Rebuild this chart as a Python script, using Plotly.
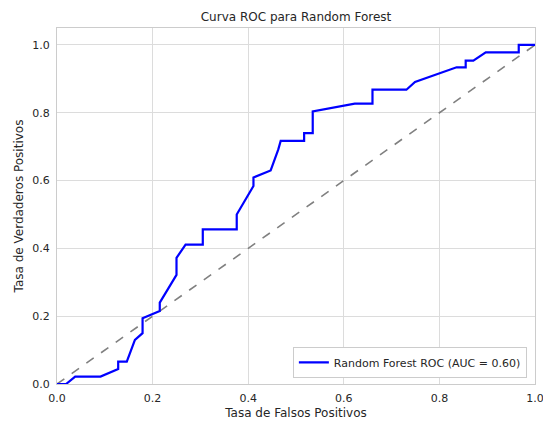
import plotly.graph_objects as go

fpr = [0.0, 0.019, 0.038, 0.091, 0.128, 0.128, 0.146, 0.163, 0.179, 0.179, 0.215, 0.215,
       0.25, 0.25, 0.269, 0.305, 0.305, 0.376, 0.376, 0.411, 0.411, 0.447, 0.463, 0.468,
       0.517, 0.517, 0.535, 0.535, 0.623, 0.66, 0.66, 0.731, 0.749, 0.836, 0.855, 0.855,
       0.871, 0.897, 0.966, 0.966, 1.0]
tpr = [0.0, 0.0, 0.022, 0.022, 0.044, 0.066, 0.066, 0.13, 0.15, 0.194, 0.215, 0.24,
       0.322, 0.372, 0.411, 0.411, 0.456, 0.456, 0.5, 0.584, 0.609, 0.63, 0.692, 0.717,
       0.717, 0.74, 0.74, 0.804, 0.827, 0.827, 0.868, 0.868, 0.891, 0.934, 0.934, 0.954,
       0.954, 0.978, 0.978, 1.0, 1.0]
diag = [0.0, 1.0]
auc_label = "Random Forest ROC (AUC = 0.60)"
ticks = [0.0, 0.2, 0.4, 0.6, 0.8, 1.0]
tick_text = ["0.0", "0.2", "0.4", "0.6", "0.8", "1.0"]

font = "DejaVu Sans, Liberation Sans, sans-serif"
fig = go.Figure()
fig.add_trace(go.Scatter(x=diag, y=diag, mode="lines",
                         line=dict(color="#808080", width=1.6, dash="dash"),
                         showlegend=False, hoverinfo="skip"))
fig.add_trace(go.Scatter(x=fpr, y=tpr, mode="lines", name=auc_label,
                         line=dict(color="#0000ff", width=2.2)))

axis_common = dict(showgrid=True, gridcolor="#dcdcdc", gridwidth=1,
                   showline=True, linecolor="#cccccc", linewidth=1, mirror=True,
                   zeroline=False, ticks="", tickvals=ticks, ticktext=tick_text,
                   ticklabelstandoff=4, automargin=False, ticklabeloverflow="allow",
                   tickfont=dict(size=11, color="#262626", family=font))
fig.update_layout(
    width=543, height=424,
    margin=dict(l=57, r=8, t=28, b=40),
    paper_bgcolor="white", plot_bgcolor="white",
    font=dict(family=font, size=11, color="#262626"),
    title=dict(text="Curva ROC para Random Forest", x=(57 + 535) / 2 / 543, xanchor="center",
               y=1 - 17 / 424, yanchor="middle", font=dict(size=12, color="#262626")),
    xaxis=dict(range=[-0.00001, 1.00001], title=dict(text="Tasa de Falsos Positivos", standoff=4,
                                        font=dict(size=12)), **axis_common),
    yaxis=dict(range=[0, 1.05], title=dict(text="Tasa de Verdaderos Positivos", standoff=6,
                                           font=dict(size=12)), **axis_common),
    legend=dict(x=0.983, y=0.017, xanchor="right", yanchor="bottom",
                bgcolor="white", bordercolor="#cccccc", borderwidth=1,
                font=dict(size=11, color="#262626")),
)
fig.write_html("out.html")
